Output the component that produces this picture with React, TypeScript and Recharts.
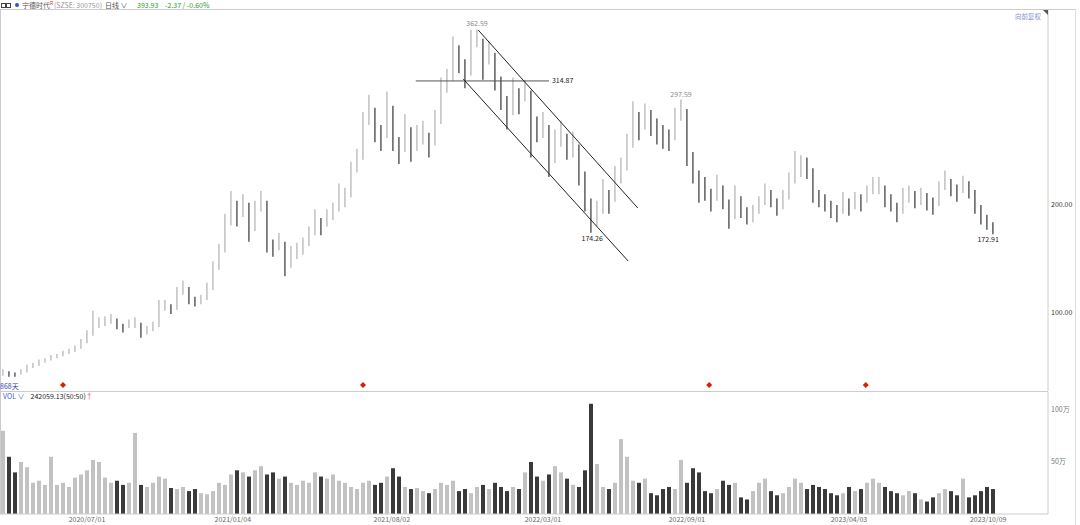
import React from "react";
import {
  ComposedChart,
  Bar,
  Cell,
  XAxis,
  YAxis,
  ReferenceLine,
  ReferenceDot,
  Scatter,
} from "recharts";

// weekly ranges (forward adjusted), one slot per ~5 sessions
const lows = [
  42, 41, 41, 43, 45, 49, 51, 54, 56, 58, 60, 62, 64, 67, 72, 79, 86, 88, 90, 85,
  82, 86, 86, 77, 80, 83, 87, 102, 99, 103, 117, 108, 106, 108, 112, 121, 140, 156, 181, 180,
  189, 166, 176, 194, 156, 152, 158, 134, 142, 150, 154, 162, 172, 172, 180, 186, 194, 198, 207, 230,
  242, 274, 258, 250, 262, 250, 238, 249, 240, 250, 256, 244, 255, 275, 304, 315, 322, 308, 320, 346,
  316, 330, 306, 288, 270, 283, 284, 296, 244, 258, 262, 226, 239, 254, 242, 244, 218, 194, 174.26, 180,
  192, 192, 203, 220, 232, 253, 260, 270, 264, 256, 252, 250, 260, 278, 236, 220, 202, 204, 194, 204,
  196, 178, 187, 188, 182, 184, 192, 200, 198, 190, 196, 205, 220, 226, 224, 202, 198, 194, 188, 184,
  192, 190, 196, 194, 202, 210, 210, 198, 194, 184, 192, 202, 197, 200, 195, 191, 199, 214, 208, 203,
  211, 206, 192, 182, 177, 172.91,
];
const highs = [
  48, 46, 45, 48, 52, 54, 57, 58, 61, 62, 65, 67, 70, 76, 84, 102, 96, 97, 99, 95,
  90, 94, 96, 91, 88, 92, 112, 112, 108, 124, 130, 124, 115, 117, 128, 148, 164, 192, 213, 204,
  210, 202, 204, 213, 204, 168, 174, 166, 162, 165, 170, 180, 196, 188, 196, 202, 220, 216, 240, 252,
  286, 302, 290, 274, 305, 292, 263, 284, 272, 274, 278, 267, 288, 318, 326, 356, 348, 335, 362, 362.59,
  354, 352, 341, 319, 301, 318, 308, 316, 306, 282, 286, 274, 270, 278, 266, 268, 256, 231, 206, 204,
  224, 214, 236, 244, 266, 296, 286, 294, 288, 280, 274, 270, 290, 297.59, 289, 249, 232, 226, 215, 228,
  218, 205, 218, 208, 198, 200, 208, 220, 214, 206, 214, 230, 250, 246, 244, 234, 214, 210, 204, 200,
  212, 206, 212, 210, 218, 226, 226, 218, 210, 202, 216, 218, 213, 216, 211, 207, 222, 232, 224, 219,
  227, 222, 214, 200, 191, 184,
];
// volume, 万手
const volumes = [
  80, 55, 40, 50, 45, 30, 32, 28, 55, 28, 30, 26, 35, 38, 42, 52, 50, 35, 30, 32,
  28, 30, 78, 28, 26, 30, 36, 34, 25, 24, 26, 22, 24, 20, 19, 22, 30, 28, 38, 42,
  40, 36, 42, 46, 38, 40, 34, 36, 30, 28, 32, 30, 40, 36, 34, 38, 32, 30, 26, 24,
  30, 32, 28, 30, 36, 44, 36, 26, 24, 25, 22, 20, 24, 30, 28, 32, 22, 24, 20, 26,
  28, 24, 30, 26, 22, 26, 24, 40, 50, 36, 32, 38, 46, 40, 34, 28, 26, 42, 106, 48,
  26, 24, 30, 72, 55, 32, 30, 34, 20, 18, 24, 26, 24, 52, 30, 44, 40, 22, 20, 24,
  32, 28, 30, 16, 14, 22, 30, 34, 22, 18, 20, 26, 34, 30, 24, 28, 26, 24, 20, 18,
  20, 26, 22, 24, 30, 34, 30, 26, 22, 20, 18, 22, 20, 14, 12, 16, 20, 24, 22, 18,
  34, 16, 18, 22, 26, 24,
];

const dateTickIdx = [14, 38.3, 64.8, 90, 114, 141, 164.2];
const dateTickLabels = ["2020/07/01", "2021/01/04", "2021/08/02", "2022/03/01", "2022/09/01", "2023/04/03", "2023/10/09"];
const priceTicks = [100, 200];
const volTicks = [50, 100];
const eventIdx = [10, 60, 117.7, 143.8];

// trend lines drawn on the chart: [idx, price] pairs
const channelUpper = [[79.2, 362.0], [105.8, 197.2]];
const channelLower = [[76.7, 316.7], [104.2, 148.1]];
const resistance = [[68.8, 314.87], [91, 314.87]];

const W = 1080;
const X_DOMAIN: [number, number] = [-0.5, 174.17];
const FONT = "'Noto Sans CJK SC', 'DejaVu Sans', sans-serif";

const rows = lows.map((lo, i) => ({ i, lo, hi: highs[i], vol: volumes[i] }));
const isUp = (i: number) => i === 0 || lows[i] + highs[i] >= lows[i - 1] + highs[i - 1];
const events = eventIdx.map((i) => ({ i, ev: 33.3 }));

const seg = (p: number[][]) => p.map(([x, y]) => ({ x, y }));

const Diamond = (props: any) => {
  const { cx, cy } = props;
  return <path d={`M${cx},${cy - 3}L${cx + 3},${cy}L${cx},${cy + 3}L${cx - 3},${cy}Z`} fill="#d81e06" />;
};

const hdr = (left: number, color: string): React.CSSProperties => ({
  position: "absolute", left, top: 0, fontSize: 7, lineHeight: "10px", whiteSpace: "nowrap", color,
});

export default function App() {
  return (
    <div style={{ position: "absolute", left: 0, top: 0, width: W, height: 525, background: "#fff", fontFamily: FONT, overflow: "hidden" }}>
      {/* header */}
      <span style={{ position: "absolute", left: 1, top: 3, width: 3, height: 3, border: "1px solid #444" }} />
      <span style={{ position: "absolute", left: 6, top: 3, width: 3, height: 3, border: "1px solid #444" }} />
      <span style={{ position: "absolute", left: 15, top: 3, width: 4, height: 4, borderRadius: 2, background: "#3355bb" }} />
      <span style={hdr(22, "#555")}>宁德时代</span>
      <span style={{ position: "absolute", left: 50, top: 0, fontSize: 5, lineHeight: "6px", color: "#d33" }}>R</span>
      <span style={hdr(54, "#999")}>(SZSE: 300750)</span>
      <span style={hdr(105, "#555")}>日线 ∨</span>
      <span style={hdr(137, "#2a9d2a")}>393.93</span>
      <span style={hdr(165, "#2a9d2a")}>-2.37 / -0.60%</span>
      <div style={{ position: "absolute", left: 0, top: 9, width: 1075, height: 1, background: "#ccc" }} />
      <div style={{ position: "absolute", left: 0, top: 9, width: 1, height: 505, background: "#ccc" }} />
      <div style={{ position: "absolute", left: 1075, top: 9, width: 1, height: 516, background: "#ddd" }} />
      <div style={{ position: "absolute", left: 0, top: 391, width: 1048, height: 1, background: "#ccc" }} />

      {/* price pane */}
      <div style={{ position: "absolute", left: 0, top: 10 }}>
        <ComposedChart width={W} height={381} data={rows} margin={{ top: 0, right: 0, bottom: 0, left: 0 }}>
          <XAxis type="number" dataKey="i" domain={X_DOMAIN} hide allowDataOverflow />
          <YAxis
            orientation="right"
            width={32}
            domain={[27.78, 380.56]}
            allowDataOverflow
            ticks={priceTicks}
            tickFormatter={(v: number) => v.toFixed(2)}
            tick={{ fontSize: 7, fill: "#333", fontFamily: FONT }}
            tickLine={false}
            tickSize={0}
            tickMargin={3}
            axisLine={{ stroke: "#ccc" }}
          />
          <Bar dataKey={(d: any) => [d.lo, d.hi]} barSize={4} isAnimationActive={false}>
            {rows.map((r) => (
              <Cell key={r.i} fill={isUp(r.i) ? "#a8a8a8" : "#1e1e1e"} />
            ))}
          </Bar>
          <Scatter data={events} dataKey="ev" shape={<Diamond />} isAnimationActive={false} />
          <ReferenceLine segment={seg(resistance)} stroke="#555" strokeWidth={1} />
          <ReferenceLine segment={seg(channelUpper)} stroke="#222" strokeWidth={1} />
          <ReferenceLine segment={seg(channelLower)} stroke="#222" strokeWidth={1} />
          <ReferenceDot x={79} y={362.59} r={0} label={{ value: "362.59", position: "top", offset: 3, fontSize: 7, fill: "#888" }} />
          <ReferenceDot x={91} y={314.87} r={0} label={{ value: "314.87", position: "right", offset: 3, fontSize: 7, fill: "#222" }} />
          <ReferenceDot x={113} y={297.59} r={0} label={{ value: "297.59", position: "top", offset: 3, fontSize: 7, fill: "#888" }} />
          <ReferenceDot x={98.2} y={174.26} r={0} label={{ value: "174.26", position: "bottom", offset: 3, fontSize: 7, fill: "#222" }} />
          <ReferenceDot x={164.2} y={172.91} r={0} label={{ value: "172.91", position: "bottom", offset: 3, fontSize: 7, fill: "#222" }} />
        </ComposedChart>
      </div>
      <div style={{ position: "absolute", left: 1015, top: 11, fontSize: 6.5, color: "#7f8fd0" }}>向前复权</div>
      <div style={{ position: "absolute", left: 1043, top: 10, width: 0, height: 0, borderLeft: "5px solid transparent", borderTop: "5px solid #555" }} />
      <div style={{ position: "absolute", left: 0, top: 381, fontSize: 7, color: "#3344aa" }}>868天</div>

      {/* volume pane */}
      <div style={{ position: "absolute", left: 3, top: 392, fontSize: 7, lineHeight: "9px", whiteSpace: "nowrap" }}>
        <span style={{ color: "#4a5fc8" }}>VOL ∨</span>
        <span style={{ marginLeft: 6, color: "#222" }}>242059.13(50:50)</span>
        <span style={{ color: "#e33" }}>↑</span>
      </div>
      <div style={{ position: "absolute", left: 0, top: 392 }}>
        <ComposedChart width={W} height={133} data={rows} margin={{ top: 0, right: 0, bottom: 0, left: 0 }}>
          <XAxis
            type="number"
            dataKey="i"
            domain={X_DOMAIN}
            allowDataOverflow
            ticks={dateTickIdx}
            interval={0}
            tickFormatter={(v: number) => dateTickLabels[dateTickIdx.indexOf(v)]}
            tick={{ fontSize: 7, fill: "#666", fontFamily: FONT }}
            tickLine={false}
            tickSize={0}
            tickMargin={3}
            height={11}
            axisLine={{ stroke: "#ccc" }}
          />
          <YAxis
            orientation="right"
            width={32}
            domain={[0, 117.3]}
            allowDataOverflow
            ticks={volTicks}
            tickFormatter={(v: number) => `${v}万`}
            tick={{ fontSize: 7, fill: "#777", fontFamily: FONT }}
            tickLine={false}
            tickSize={0}
            tickMargin={3}
            axisLine={{ stroke: "#ccc" }}
          />
          <Bar dataKey="vol" barSize={4} isAnimationActive={false}>
            {rows.map((r) => (
              <Cell key={r.i} fill={isUp(r.i) ? "#c2c2c2" : "#3a3a3a"} />
            ))}
          </Bar>
        </ComposedChart>
      </div>
    </div>
  );
}
